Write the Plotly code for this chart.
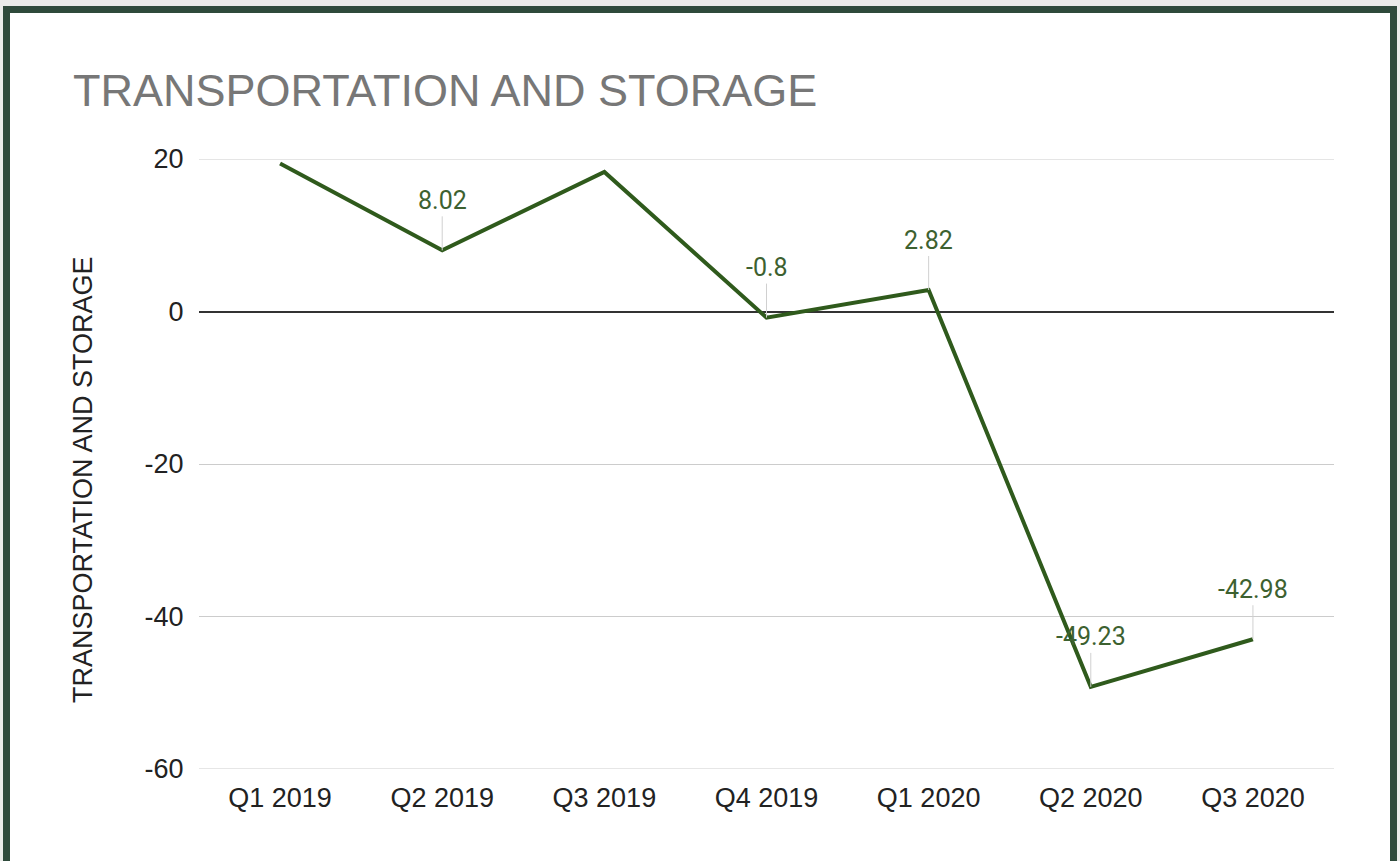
import plotly.graph_objects as go

# Quarterly growth, transportation and storage sector
quarters = ["Q1 2019", "Q2 2019", "Q3 2019", "Q4 2019", "Q1 2020", "Q2 2020", "Q3 2020"]
values = [19.4, 8.02, 18.3, -0.8, 2.82, -49.23, -42.98]
labelled = [False, True, False, True, True, True, True]

y_ticks = [20, 0, -20, -40, -60]
y_tick_text = ["20", "0", "-20", "-40", "-60"]

W, H = 1400, 861
ML, MR, MT, MB = 199, 66, 159, 92
PW, PH = W - ML - MR, H - MT - MB


def px_x(x):
    return (x - ML) / PW


def px_y(y):
    return (H - MB - y) / PH


LINE = "#2f5a1c"
LABEL = "#3d6130"

fig = go.Figure()
fig.add_trace(go.Scatter(
    x=quarters, y=values, mode="lines",
    line=dict(color=LINE, width=4),
    hoverinfo="x+y", showlegend=False,
))

annotations = []
for q, v, show in zip(quarters, values, labelled):
    if not show:
        continue
    annotations.append(dict(
        x=q, y=v, xref="x", yref="y", text=f"{v:g}",
        showarrow=True, arrowhead=0, arrowwidth=1, arrowcolor="#d0d0d0",
        ax=0, ay=-50, standoff=0,
        font=dict(family="Roboto, Arial, sans-serif", size=25, color=LABEL),
    ))

# Axis title placed beside the plot area
annotations.append(dict(
    x=px_x(83), y=px_y(480), xref="paper", yref="paper",
    text="TRANSPORTATION AND STORAGE", textangle=-90, showarrow=False,
    font=dict(family="Liberation Sans, Arial, sans-serif", size=27, color="#222222"),
    xanchor="center", yanchor="middle",
))
# Chart title
annotations.append(dict(
    x=px_x(71), y=px_y(90), xref="paper", yref="paper",
    text="TRANSPORTATION AND STORAGE", showarrow=False,
    font=dict(family="Liberation Sans, Arial, sans-serif", size=45, color="#777777"),
    xanchor="left", yanchor="middle",
))

# Frame: dark green border around a white card
shapes = [
    dict(type="rect", xref="paper", yref="paper", layer="below",
         x0=px_x(3), x1=px_x(1397), y0=px_y(870), y1=px_y(6),
         fillcolor="#2e4a3b", line=dict(width=0)),
    dict(type="rect", xref="paper", yref="paper", layer="below",
         x0=px_x(10), x1=px_x(1390), y0=px_y(870), y1=px_y(13),
         fillcolor="#ffffff", line=dict(width=0)),
]
# Gridlines at the top and bottom of the value range
for yv in (y_ticks[0], y_ticks[-1]):
    shapes.append(dict(type="line", xref="paper", yref="y", layer="below",
                       x0=0, x1=1, y0=yv, y1=yv,
                       line=dict(color="#cccccc", width=1)))

fig.update_layout(
    width=W, height=H,
    margin=dict(l=ML, r=MR, t=MT, b=MB, pad=0),
    paper_bgcolor="#e9ebe9",
    plot_bgcolor="rgba(0,0,0,0)",
    annotations=annotations,
    shapes=shapes,
    font=dict(family="Liberation Sans, Arial, sans-serif", size=27, color="#222222"),
    xaxis=dict(
        type="category", range=[-0.5, 6.5], showgrid=False, zeroline=False,
        showline=False, ticks="outside", ticklen=5, tickcolor="rgba(0,0,0,0)",
        tickfont=dict(size=27, color="#222222"),
    ),
    yaxis=dict(
        range=[-60, 20], tickvals=y_ticks, ticktext=y_tick_text,
        showgrid=True, gridcolor="#cccccc",
        gridwidth=1, zeroline=True, zerolinecolor="#333333", zerolinewidth=2,
        showline=False, ticks="outside", ticklen=9, tickcolor="rgba(0,0,0,0)",
        tickfont=dict(size=27, color="#222222"),
    ),
)

fig.write_html("out.html")
